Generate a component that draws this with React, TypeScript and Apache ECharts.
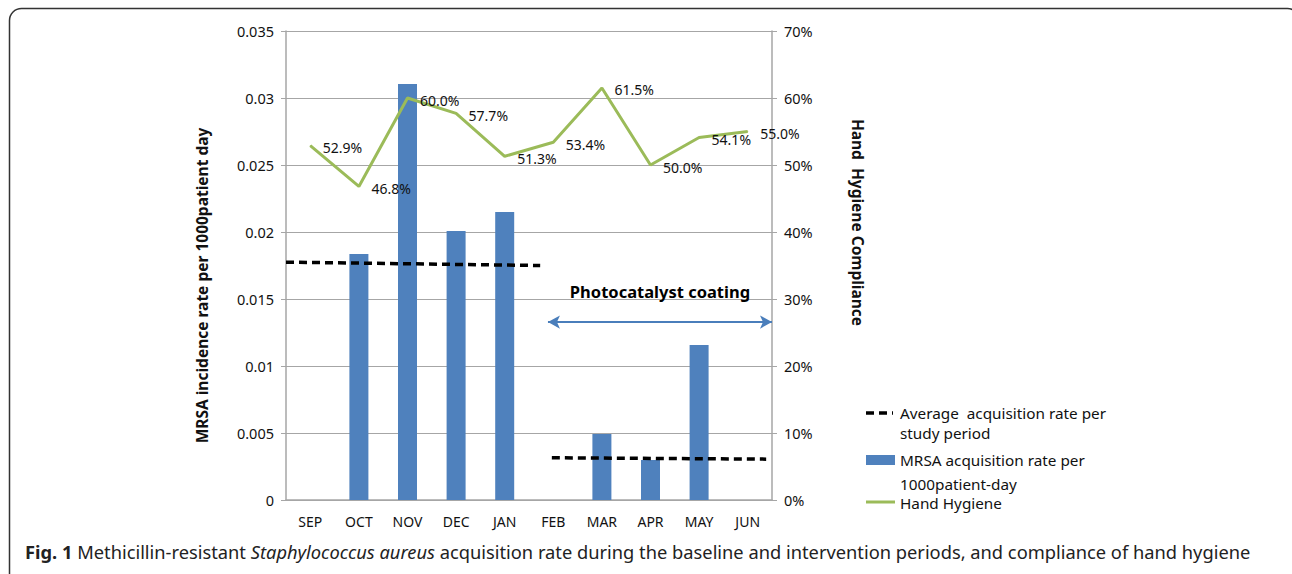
import React, { useEffect, useRef } from "react";
import * as echarts from "echarts";

const months = ["SEP", "OCT", "NOV", "DEC", "JAN", "FEB", "MAR", "APR", "MAY", "JUN"];
const mrsaRate = [null, 0.01836, 0.03104, 0.02007, 0.02149, null, 0.004925, 0.002985, 0.01157, null];
const handHygiene = [0.529, 0.468, 0.6, 0.577, 0.513, 0.534, 0.615, 0.5, 0.541, 0.55];
// dashed averages: [position along category scale (0..10), rate]
const baselineAvg = [[0, 0.01775], [5.23, 0.0175]];
const interventionAvg = [[5.47, 0.00315], [9.88, 0.00305]];
const coatingSpan = [[5.39, 0.01328], [10, 0.01328]];
const leftTicks = { min: 0, max: 0.035, interval: 0.005 };
const rightTicks = { min: 0, max: 0.7, interval: 0.1 };

const FONT = "'Noto Sans', sans-serif";
const GRID = "#a6a6a6";
const LEG = 15.3;

export default function App() {
  const ref = useRef<HTMLDivElement>(null);
  useEffect(() => {
    document.body.style.margin = "0";
    const chart = echarts.init(ref.current!, null, { renderer: "svg" });
    chart.setOption({
      animation: false,
      textStyle: { fontFamily: FONT },
      title: {
        left: 20,
        top: 537,
        text:
          "{b|Fig. 1} Methicillin-resistant {i|Staphylococcus aureus} acquisition rate during the baseline and intervention periods, and compliance of hand hygiene",
        textStyle: {
          fontSize: 18.3,
          fontWeight: "normal",
          color: "#222",
          fontFamily: FONT,
          rich: {
            b: { fontSize: 18.3, fontWeight: "bold", color: "#222", fontFamily: FONT },
            i: { fontSize: 18.3, fontStyle: "italic", color: "#222", fontFamily: FONT },
          },
        },
      },
      grid: { left: 286, right: 520, top: 31, bottom: 74 },
      xAxis: [
        {
          type: "category",
          data: months,
          axisTick: { show: false },
          axisLine: { lineStyle: { color: GRID, width: 1.5 } },
          axisLabel: { color: "#111", fontSize: 14, margin: 14, fontFamily: FONT },
        },
        { type: "value", min: 0, max: 10, show: false },
      ],
      yAxis: [
        {
          type: "value",
          ...leftTicks,
          name: "MRSA incidence rate per 1000patient day",
          nameLocation: "middle",
          nameGap: 76,
          nameTextStyle: { fontSize: 15.5, fontWeight: "bold", color: "#111", padding: [0, 40, 0, 0] },
          axisLine: { show: true, lineStyle: { color: GRID, width: 1.5 } },
          axisTick: { show: true, length: 5, lineStyle: { color: GRID } },
          axisLabel: { color: "#111", fontSize: 14.5, margin: 12 },
          splitLine: { lineStyle: { color: GRID } },
        },
        {
          type: "value",
          ...rightTicks,
          position: "right",
          name: "Hand  Hygiene Compliance",
          nameLocation: "middle",
          nameRotate: -90,
          nameGap: 78,
          nameTextStyle: { fontSize: 15.5, fontWeight: "bold", color: "#111", padding: [0, 86, 0, 0] },
          axisLine: { show: true, lineStyle: { color: GRID, width: 1.5 } },
          axisTick: { show: true, length: 5, lineStyle: { color: GRID } },
          axisLabel: {
            color: "#111",
            fontSize: 14.5,
            margin: 12,
            formatter: (v: number) => Math.round(v * 100) + "%",
          },
          splitLine: { show: false },
        },
      ],
      series: [
        {
          name: "MRSA acquisition rate per 1000patient-day",
          type: "bar",
          data: mrsaRate,
          barWidth: 19,
          itemStyle: { color: "#4f81bd" },
          z: 1,
        },
        {
          name: "Hand Hygiene",
          type: "line",
          yAxisIndex: 1,
          data: handHygiene,
          symbol: "circle",
          symbolSize: 1,
          showSymbol: true,
          itemStyle: { color: "#9bbb59" },
          lineStyle: { color: "#9bbb59", width: 3 },
          label: {
            show: true,
            position: "right",
            distance: 12,
            offset: [0, 2],
            fontSize: 14,
            color: "#111",
            formatter: (p: any) => (p.value * 100).toFixed(1) + "%",
          },
          z: 3,
        },
        {
          name: "Average acquisition rate per study period",
          type: "line",
          xAxisIndex: 1,
          data: baselineAvg,
          symbol: "none",
          lineStyle: { color: "#000", width: 3.5, type: [8, 5] },
          z: 4,
        },
        {
          name: "Average (intervention)",
          type: "line",
          xAxisIndex: 1,
          data: interventionAvg,
          symbol: "none",
          lineStyle: { color: "#000", width: 3.5, type: [8, 5] },
          z: 4,
        },
        {
          name: "coating",
          type: "line",
          xAxisIndex: 1,
          data: [],
          markLine: {
            silent: true,
            symbol: ["arrow", "arrow"],
            symbolSize: [10, 12],
            lineStyle: { color: "#4a7ebb", width: 2, type: "solid" },
            label: {
              show: true,
              position: "insideMiddleTop",
              distance: 22,
              formatter: "Photocatalyst coating",
              fontSize: 16.5,
              fontWeight: "bold",
              color: "#000",
              fontFamily: FONT,
            },
            data: [[{ coord: coatingSpan[0] }, { coord: coatingSpan[1] }]],
          },
        },
      ],
      graphic: [
        {
          type: "rect",
          shape: { x: 9.5, y: 8.5, width: 1290, height: 580, r: 12 },
          style: { fill: "none", stroke: "#333", lineWidth: 1.5 },
          silent: true,
        },
        {
          type: "line",
          shape: { x1: 866, y1: 413, x2: 893, y2: 413 },
          style: { stroke: "#000", lineWidth: 3.5, lineDash: [8, 5] },
        },
        {
          type: "text",
          x: 900,
          y: 403,
          style: {
            text: "Average  acquisition rate per\nstudy period",
            fontSize: LEG,
            lineHeight: 20,
            fill: "#111",
            fontFamily: FONT,
          },
        },
        {
          type: "rect",
          shape: { x: 866, y: 455, width: 29, height: 10 },
          style: { fill: "#4f81bd" },
        },
        {
          type: "text",
          x: 900,
          y: 450,
          style: {
            text: "MRSA acquisition rate per",
            fontSize: LEG,
            lineHeight: 20,
            fill: "#111",
            fontFamily: FONT,
          },
        },
        {
          type: "text",
          x: 900,
          y: 476,
          style: {
            text: "1000patient-day",
            fontSize: LEG,
            lineHeight: 16,
            fill: "#111",
            fontFamily: FONT,
          },
        },
        {
          type: "line",
          shape: { x1: 866, y1: 502, x2: 895, y2: 502 },
          style: { stroke: "#9bbb59", lineWidth: 3 },
        },
        {
          type: "text",
          x: 900,
          y: 494.5,
          style: {
            text: "Hand Hygiene",
            fontSize: LEG,
            lineHeight: 16,
            fill: "#111",
            fontFamily: FONT,
          },
        },
      ],
    });
    return () => chart.dispose();
  }, []);
  return <div ref={ref} style={{ width: 1292, height: 574 }} />;
}
